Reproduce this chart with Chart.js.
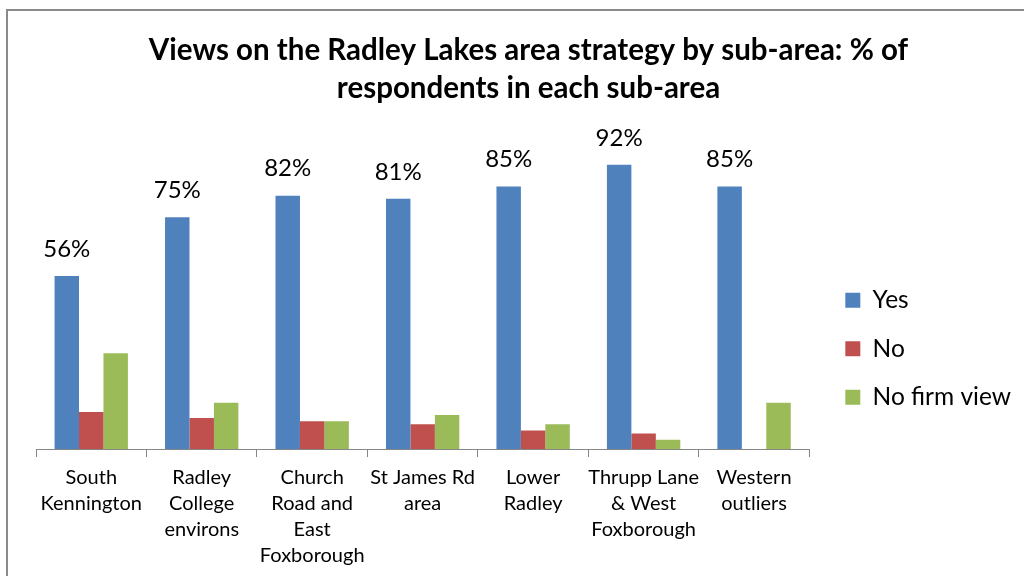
<!DOCTYPE html>
<html>
<head>
<meta charset="utf-8">
<script src="https://cdn.jsdelivr.net/npm/chart.js@4.4.1/dist/chart.umd.min.js"></script>
<style>
  html, body { margin: 0; padding: 0; background: #fff; overflow: hidden; }
  #frame {
    position: absolute; left: 6px; top: 9px;
    width: 1030px; height: 600px;
    border-left: 2px solid #8a8a8a; border-top: 2px solid #8a8a8a;
  }
  #wrap { position: absolute; left: 0; top: 0; width: 1030px; height: 566px; }
</style>
</head>
<body>
<div id="frame"><div id="wrap"><canvas id="chart"></canvas></div></div>
<script>
// Datos (% de encuestados por sub-área)
const subAreas = [
  ['South', 'Kennington'],
  ['Radley', 'College', 'environs'],
  ['Church', 'Road and', 'East', 'Foxborough'],
  ['St James Rd', 'area'],
  ['Lower', 'Radley'],
  ['Thrupp Lane', '& West', 'Foxborough'],
  ['Western', 'outliers']
];
const yesValues = [56, 75, 82, 81, 85, 92, 85];
const noValues = [12, 10, 9, 8, 6, 5, 0];
const noFirmViewValues = [31, 15, 9, 11, 8, 3, 15];
const seriesNames = ['Yes', 'No', 'No firm view'];
const yMax = 100;

const FONT = 'Lato, "Open Sans", sans-serif';

// Etiquetas "56%" encima de las barras azules
const yesLabels = {
  id: 'yesLabels',
  afterDatasetsDraw(chart) {
    const { ctx } = chart;
    const meta = chart.getDatasetMeta(0);
    ctx.save();
    ctx.font = '24px ' + FONT;
    ctx.fillStyle = '#000';
    ctx.textAlign = 'center';
    ctx.textBaseline = 'bottom';
    meta.data.forEach((bar, i) => {
      ctx.fillText(yesValues[i] + '%', bar.x, bar.y - 15);
    });
    ctx.restore();
  }
};

new Chart(document.getElementById('chart'), {
  type: 'bar',
  data: {
    labels: subAreas,
    datasets: [
      { label: seriesNames[0], data: yesValues, backgroundColor: '#4f81bd' },
      { label: seriesNames[1], data: noValues, backgroundColor: '#c0504d' },
      { label: seriesNames[2], data: noFirmViewValues, backgroundColor: '#9bbb59' }
    ]
  },
  options: {
    responsive: true,
    maintainAspectRatio: false,
    animation: false,
    categoryPercentage: 0.664,
    barPercentage: 1,
    layout: { padding: { left: 28, right: 17, top: 20, bottom: 0 } },
    plugins: {
      title: {
        display: true,
        text: ['Views on the Radley Lakes area strategy by sub-area: % of', 'respondents in each sub-area'],
        font: { family: FONT, size: 29.5, weight: 'bold', lineHeight: 1.29 },
        color: '#000',
        padding: { top: 0, bottom: 33 }
      },
      legend: {
        position: 'right',
        // título vacío: sólo empuja los elementos hacia abajo
        title: { display: true, text: '', font: { size: 12 }, padding: { top: 75, bottom: 0 } },
        labels: {
          font: { family: FONT, size: 24.5 },
          color: '#000',
          boxWidth: 15,
          boxHeight: 15,
          padding: 24
        }
      },
      tooltip: { enabled: false }
    },
    scales: {
      y: { display: false, min: 0, max: yMax },
      // eje vacío para dejar hueco entre barras y leyenda
      gap: {
        type: 'linear', position: 'right', display: true,
        grid: { display: false }, border: { display: false }, ticks: { display: false },
        afterFit(scale) { scale.width = 12; }
      },
      x: {
        grid: { offset: true, drawOnChartArea: false, drawTicks: true, tickLength: 8, color: '#868686' },
        border: { display: true, color: '#868686', width: 1 },
        ticks: { font: { family: FONT, size: 20, lineHeight: 1.3 }, color: '#000', maxRotation: 0, autoSkip: false, padding: 8 }
      }
    }
  },
  plugins: [yesLabels]
});
</script>
</body>
</html>
